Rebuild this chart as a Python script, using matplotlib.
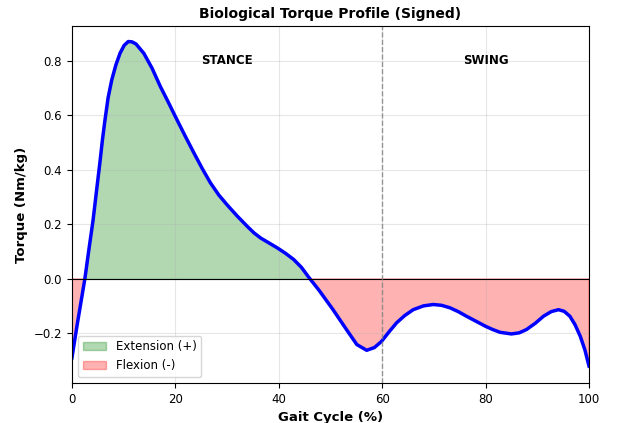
import matplotlib
matplotlib.use("Agg")
import matplotlib.pyplot as plt
import numpy as np

# gait cycle (%) and torque (Nm/kg)
gait_pct = [0, 1, 2.5, 3.3, 4.1, 4.8, 5.4, 5.9, 6.4, 7.0, 7.7, 8.5, 9.3, 10.1,
            10.9, 11.6, 12.4, 13.9, 15.5, 17.1, 18.6, 20, 21.8, 23.6, 25.2,
            26.8, 28.4, 30, 31.9, 33.9, 35.2, 36.5, 38.1, 39.7, 41.3, 42.9,
            44.4, 45.8, 47.8, 50.5, 53.1, 55.1, 57, 58.5, 59.9, 61.3, 62.8,
            64.4, 66, 68, 69.9, 71.5, 73.1, 74.7, 76.3, 78.2, 80, 81.4, 82.8,
            85, 86.5, 87.9, 89.6, 91.2, 92.7, 94.1, 95.2, 96.3, 97.3, 98.3,
            99.2, 100]
torque = [-0.29, -0.17, 0.0, 0.11, 0.217, 0.33, 0.425, 0.51, 0.584, 0.665,
          0.73, 0.785, 0.828, 0.857, 0.871, 0.87, 0.862, 0.828, 0.773, 0.706,
          0.65, 0.596, 0.528, 0.462, 0.405, 0.352, 0.308, 0.272, 0.232, 0.193,
          0.169, 0.15, 0.132, 0.114, 0.094, 0.071, 0.042, 0.006, -0.042,
          -0.113, -0.186, -0.241, -0.262, -0.252, -0.229, -0.195, -0.161,
          -0.134, -0.113, -0.099, -0.094, -0.097, -0.106, -0.12, -0.137,
          -0.156, -0.174, -0.186, -0.196, -0.202, -0.198, -0.186, -0.163,
          -0.137, -0.12, -0.113, -0.119, -0.137, -0.168, -0.21, -0.26, -0.32]

stance_end = 60

x = np.array(gait_pct)
y = np.array(torque)

fig, ax = plt.subplots(figsize=(6.2, 4.23), dpi=100)
fig.subplots_adjust(left=0.116, right=0.95, top=0.9385, bottom=0.0946)

ax.fill_between(x, y, 0, where=y >= 0, interpolate=True, color="green",
                alpha=0.3, label="Extension (+)")
ax.fill_between(x, y, 0, where=y <= 0, interpolate=True, color="red",
                alpha=0.3, label="Flexion (-)")
ax.plot(x, y, color="blue", linewidth=2.5, solid_joinstyle="round")
ax.axhline(0, color="black", linewidth=0.8)
ax.axvline(stance_end, color="gray", linestyle="--", linewidth=1.0, alpha=0.8)

ax.text(30, 0.8, "STANCE", ha="center", va="center", fontsize=8.5, fontweight="bold")
ax.text(80, 0.8, "SWING", ha="center", va="center", fontsize=8.5, fontweight="bold")

ax.set_xlim(0, 100)
ax.set_ylim(-0.382, 0.928)
ax.set_title("Biological Torque Profile (Signed)", fontsize=10, fontweight="bold")
ax.set_xlabel("Gait Cycle (%)", fontsize=9.5, fontweight="bold")
ax.set_ylabel("Torque (Nm/kg)", fontsize=9.5, fontweight="bold")
ax.tick_params(labelsize=8.5)
ax.grid(True, alpha=0.3)
ax.legend(loc="lower left", fontsize=8.5)

plt.savefig("out.png")
